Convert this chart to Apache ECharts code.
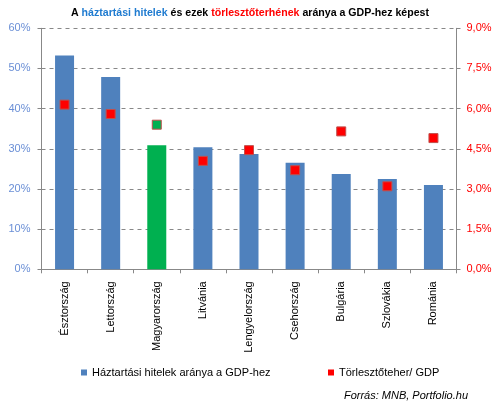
<!DOCTYPE html>
<html><head><meta charset="utf-8">
<script src="https://cdn.jsdelivr.net/npm/echarts@6/dist/echarts.min.js"></script>
<style>html,body{margin:0;padding:0;background:#fff}#c{width:500px;height:408px}</style>
</head><body><div id="c"></div>
<script>
const categories = ['Észtország','Lettország','Magyarország','Litvánia','Lengyelország','Csehország','Bulgária','Szlovákia','Románia'];
const loanRatio = [53.2, 47.9, 30.9, 30.4, 28.7, 26.5, 23.7, 22.5, 21.0];
const burdenRatio = [6.15, 5.8, 5.4, 4.05, 4.45, 3.7, 5.15, 3.1, 4.9];
const highlight = 'Magyarország';
const seriesNames = ['Háztartási hitelek aránya a GDP-hez', 'Törlesztőteher/ GDP'];

const F = 'Liberation Sans, Arial, sans-serif';
const chart = echarts.init(document.getElementById('c'), null, {renderer:'canvas'});
chart.setOption({
  animation:false,
  textStyle:{fontFamily:F},
  title:{
    text:'{k|A }{b|háztartási hitelek}{k| és ezek }{r|törlesztőterhének}{k| aránya a GDP-hez képest}',
    left:'center', top:3,
    textStyle:{rich:{
      k:{fontFamily:F,fontSize:10.6,fontWeight:'bold',color:'#000'},
      b:{fontFamily:F,fontSize:10.6,fontWeight:'bold',color:'#1f7bd0'},
      r:{fontFamily:F,fontSize:10.6,fontWeight:'bold',color:'#ff0000'}
    }}
  },
  graphic:[{type:'text',right:32,top:390,style:{text:'Forrás: MNB, Portfolio.hu',font:'italic 11px '+F,fill:'#000'}}],
  legend:[
    {data:[{name:seriesNames[0],itemStyle:{color:'#4f81bd',borderWidth:0}}],left:76,top:362,itemWidth:6,itemHeight:6,icon:'rect',
     textStyle:{fontFamily:F,fontSize:11,color:'#000'}},
    {data:[{name:seriesNames[1],itemStyle:{color:'#ff0000',borderWidth:0}}],left:323,top:362,itemWidth:6,itemHeight:6,icon:'rect',
     textStyle:{fontFamily:F,fontSize:11,color:'#000'}}
  ],
  grid:{left:41.5,right:43.5,top:28.3,bottom:138.7,containLabel:false},
  xAxis:{type:'category',data:categories,boundaryGap:true,
    axisLine:{lineStyle:{color:'#888'}},
    axisTick:{show:true,length:4,lineStyle:{color:'#888'}},
    axisLabel:{rotate:90,fontFamily:F,fontSize:11,color:'#000',margin:12,interval:0}
  },
  yAxis:[
    {type:'value',min:0,max:60,interval:10,position:'left',
     axisLine:{show:true,lineStyle:{color:'#888'}},
     axisTick:{show:true,length:4,lineStyle:{color:'#888'}},
     axisLabel:{formatter:v=>v+'%',fontFamily:F,fontSize:11,color:'#6a8fd6',margin:11},
     splitLine:{show:true,lineStyle:{color:'#888',type:[4,4],width:1}}
    },
    {type:'value',min:0,max:9,interval:1.5,position:'right',
     axisLine:{show:true,lineStyle:{color:'#888'}},
     axisTick:{show:true,length:4,lineStyle:{color:'#888'}},
     axisLabel:{formatter:v=>v.toFixed(1).replace('.',',')+'%',fontFamily:F,fontSize:11,color:'#ff0000',margin:10},
     splitLine:{show:false}
    }
  ],
  series:[
    {name:seriesNames[0],type:'bar',yAxisIndex:0,barWidth:19,
     itemStyle:{color:'#4f81bd'},
     data:loanRatio.map((v,i)=>({value:v,itemStyle:{color:categories[i]===highlight?'#00b050':'#4f81bd'}}))
    },
    {name:seriesNames[1],type:'scatter',yAxisIndex:1,symbol:'rect',symbolSize:9,
     itemStyle:{color:'#ff0000',borderColor:'#c0504d',borderWidth:1,opacity:1},
     data:burdenRatio.map((v,i)=>({value:v,itemStyle:{color:categories[i]===highlight?'#00b050':'#ff0000',opacity:1}}))
    }
  ]
});
</script></body></html>
